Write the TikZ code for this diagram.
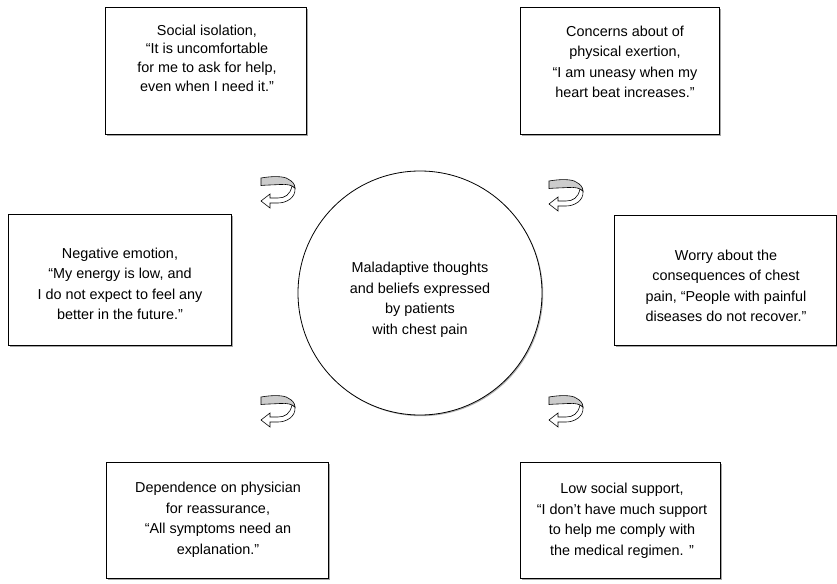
\documentclass[tikz,border=0pt]{standalone}
\usepackage{fontspec}
\setmainfont{Liberation Sans}
\usetikzlibrary{shadows}
\tikzset{
  box/.style={draw, line width=0.8pt, fill=white, rectangle,
    drop shadow={shadow xshift=1.6pt, shadow yshift=-1.6pt, fill=black!35, opacity=1}},
  hub/.style={draw, line width=0.8pt, fill=white, circle, inner sep=0pt,
    minimum size=244pt,
    drop shadow={shadow xshift=1.2pt, shadow yshift=-1.2pt, fill=black!30, opacity=1}},
  txt/.style={align=center, inner sep=0pt, font=\fontsize{14.4}{20.5}\selectfont},
  pics/uturn/.style={code={
    \draw[line width=0.6pt, fill=white]
      (17,-5) .. controls (18,5) and (8,10) .. (0,10) -- (-8,10) -- (-8,15)
      -- (-17,8) -- (-8,1) -- (-8,5) -- (0,5) .. controls (7,5) and (12,2) .. (14,-7) -- cycle;
    \draw[line width=0.6pt, fill=black!20]
      (-17,-15) .. controls (-6,-17) and (6,-17) .. (10,-14) .. controls (14,-12) and (17,-9) .. (17,-5)
      .. controls (14,-8) and (9,-9) .. (2,-8.5) .. controls (-6,-8) and (-12,-8) .. (-17,-7.5) -- cycle;
  }}
}
\begin{document}
\begin{tikzpicture}[x=1pt, y=-1pt]
      \useasboundingbox (0,0) rectangle (837,583);
      \node[box, minimum width=201, minimum height=127] (iso) at (205.5,70.5) {};
      \node[box, minimum width=199, minimum height=127] (exert) at (619.5,70.5) {};
      \node[box, minimum width=223, minimum height=131] (emot) at (119.5,279.5) {};
      \node[box, minimum width=222, minimum height=130] (worry) at (725,280) {};
      \node[box, minimum width=222, minimum height=116] (phys) at (217,520) {};
      \node[box, minimum width=200, minimum height=116] (supp) at (620,520) {};
      \node[hub] (core) at (420,293) {};
      \begin{scope}[txt]
        \node[font=\fontsize{14.4}{18.6}\selectfont] (isot) at (207,58) {Social isolation,\\“It is uncomfortable\\for me to ask for help,\\even when I need it.”};
        \node (exertt) at (625,62) {Concerns about of\\physical exertion,\\“I am uneasy when my\\heart beat increases.”};
        \node (emott) at (120,284) {Negative emotion,\\“My energy is low, and\\I do not expect to feel any\\better in the future.”};
        \node (worryt) at (726,286) {Worry about the\\consequences of chest\\pain, “People with painful\\diseases do not recover.”};
        \node (physt) at (218,520) {Dependence on physician\\for reassurance,\\“All symptoms need an\\explanation.”};
        \node (suppt) at (622,521) {Low social support,\\“I don’t have much support\\to help me comply with\\the medical regimen. ”};
        \node (coret) at (420,300) {Maladaptive thoughts\\and beliefs expressed\\by patients\\with chest pain};
      \end{scope}
      \pic at (278,193) {uturn};
      \pic at (566,196) {uturn};
      \pic at (278,412) {uturn};
      \pic at (566,412) {uturn};
    \end{tikzpicture}
\end{document}
